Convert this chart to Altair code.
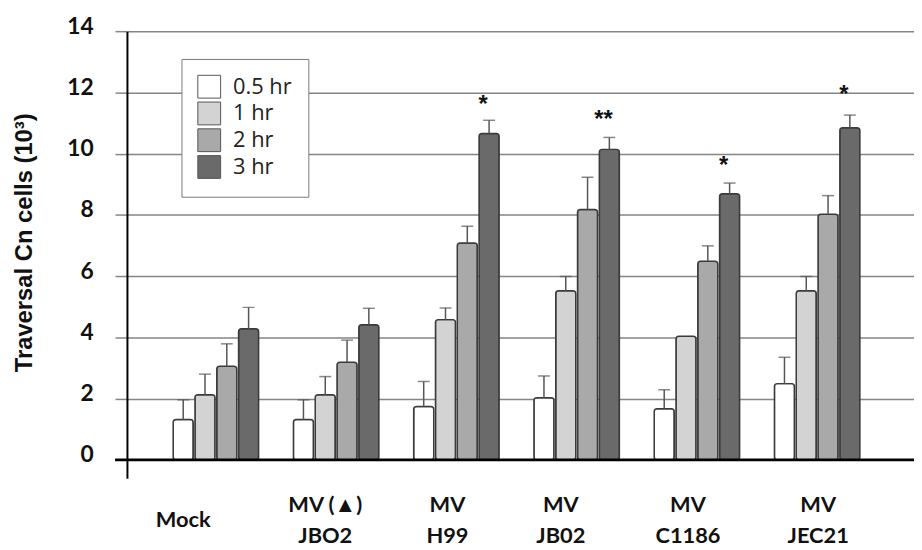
import altair as alt
import pandas as pd

# ---- data ----
groups = ["Mock", "MV (▲)|JBO2", "MV|H99", "MV|JB02", "MV|C1186", "MV|JEC21"]
periods = ["0.5 hr", "1 hr", "2 hr", "3 hr"]
colors = ["#ffffff", "#d3d3d3", "#a9a9a9", "#6a6a6a"]

mean_05 = [1.32, 1.32, 1.74, 2.03, 1.67, 2.49]
mean_1 = [2.13, 2.13, 4.58, 5.52, 4.04, 5.52]
mean_2 = [3.06, 3.19, 7.08, 8.18, 6.49, 8.02]
mean_3 = [4.28, 4.41, 10.66, 10.14, 8.69, 10.85]

err_05 = [0.64, 0.64, 0.82, 0.71, 0.62, 0.86]
err_1 = [0.67, 0.59, 0.38, 0.47, 0.0, 0.47]
err_2 = [0.73, 0.72, 0.55, 1.05, 0.50, 0.61]
err_3 = [0.70, 0.54, 0.43, 0.39, 0.35, 0.41]

star_groups = ["MV|H99", "MV|JB02", "MV|C1186", "MV|JEC21"]
star_text = ["*", "**", "*", "*"]
star_y = [11.81, 11.32, 9.83, 12.14]

y_ticks = [0, 2, 4, 6, 8, 10, 12, 14]

# ---- tables ----
rows = []
for means, errs, p in [(mean_05, err_05, periods[0]), (mean_1, err_1, periods[1]),
                       (mean_2, err_2, periods[2]), (mean_3, err_3, periods[3])]:
    for g, m, e in zip(groups, means, errs):
        rows.append({"group": g, "period": p, "mean": m, "err": e, "upper": m + e})
df = pd.DataFrame(rows)

stars = pd.DataFrame({"group": star_groups, "text": star_text, "y": star_y,
                      "period": [periods[3]] * len(star_groups)})

W, H = 794, 451

label_offset = {
    "condition": [
        {"test": "datum.value === 'Mock'", "value": -33},
        {"test": "datum.value === 'MV (▲)|JBO2'", "value": -11},
        {"test": "datum.value === 'MV|JB02'", "value": -16},
        {"test": "datum.value === 'MV|JEC21'", "value": 1},
    ],
    "value": -9,
}
label_padding = {"condition": {"test": "datum.value === 'Mock'", "value": 32}, "value": 17}

x_enc = alt.X(
    "group:N",
    sort=groups,
    scale=alt.Scale(domain=groups, paddingInner=0.275, paddingOuter=0.41, align=0.46),
    axis=alt.Axis(
        title=None, domain=False, ticks=False, grid=False, labelAngle=0,
        labelFont="Lato", labelFontWeight="bold", labelFontSize=22, labelColor="#111",
        labelLineHeight=31, labelBaseline="top",
        labelExpr="split(datum.label, '|')",
        labelOffset=label_offset, labelPadding=label_padding,
    ),
)
xo_enc = alt.XOffset("period:N", sort=periods,
                     scale=alt.Scale(domain=periods, paddingInner=0.08, paddingOuter=0.04))

y_scale = alt.Scale(domain=[-0.6, 14], nice=False, zero=False)
y_axis = alt.Axis(
    values=y_ticks, title="Traversal Cn cells (10³)",
    titleFont="Liberation Sans", titleFontWeight="bold", titleFontSize=24, titleColor="#111",
    titleAngle=-90, titleAlign="center", titleBaseline="middle", titleX=-103, titleY=213,
    labelFont="Lato", labelFontWeight="bold", labelFontSize=23, labelColor="#111",
    labelPadding=22, labelOffset=-5,
    grid=True, gridColor="#858585", gridWidth=1.5,
    tickSize=12, tickColor="#858585", tickWidth=1.5,
    domain=True, domainColor="#000", domainWidth=2,
)

bars = alt.Chart(df).mark_bar(cornerRadius=3, stroke="#3a3a3a", strokeWidth=1.5).encode(
    x=x_enc,
    xOffset=xo_enc,
    y=alt.Y("mean:Q", scale=y_scale, axis=y_axis),
    color=alt.Color(
        "period:N", sort=periods,
        scale=alt.Scale(domain=periods, range=colors),
        legend=alt.Legend(
            title=None, orient="none", legendX=55, legendY=28,
            fillColor="white", strokeColor="#7a7a7a", padding=16,
            symbolType="square", symbolSize=529, symbolStrokeColor="#555",
            symbolStrokeWidth=1, labelFont="Open Sans", labelFontSize=22,
            labelColor="#222", labelOffset=12, rowPadding=-1,
            labelExpr="datum.label === '0.5 hr' ? datum.label : '\u00a0\u00a0\u00a0' + datum.label",
        ),
    ),
)

err_base = alt.Chart(df).transform_filter("datum.err > 0")
err_rules = err_base.mark_rule(color="#555", strokeWidth=1.5).encode(
    x=alt.X("group:N", sort=groups),
    xOffset=alt.XOffset("period:N", sort=periods),
    y="mean:Q",
    y2="upper:Q",
)
err_caps = err_base.mark_tick(color="#555", thickness=1.5, size=12).encode(
    x=alt.X("group:N", sort=groups),
    xOffset=alt.XOffset("period:N", sort=periods),
    y="upper:Q",
)

star_marks = alt.Chart(stars).mark_text(
    font="Liberation Sans", fontSize=24, fontWeight="bold", color="#111",
    baseline="middle", dx=-6, dy=7,
).encode(
    x=alt.X("group:N", sort=groups),
    xOffset=alt.XOffset("period:N", sort=periods),
    y="y:Q",
    text="text:N",
)

zero_line = alt.Chart(pd.DataFrame({"z": [0]})).mark_rule(color="#000", strokeWidth=3).encode(
    y="z:Q",
    x=alt.value(-12),
    x2=alt.value(W),
)

chart = alt.layer(bars, err_rules, err_caps, star_marks, zero_line).properties(
    width=W, height=H,
    autosize=alt.AutoSizeParams(type="none"),
    padding={"left": 120, "top": 21, "right": 0, "bottom": 70},
    background="white",
).configure_view(strokeWidth=0)

chart.save("out.html", embed_options={"renderer": "svg", "actions": False})
